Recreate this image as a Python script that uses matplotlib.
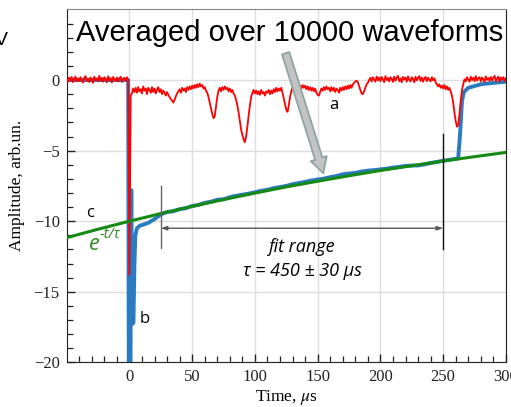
import numpy as np
import matplotlib
matplotlib.use("Agg")
import matplotlib.pyplot as plt

# single waveform (a), sampled every 1 us from -50 to 300 us
red_t0 = -50
red_y = [
    0.10, -0.12, 0.18, -0.05, 0.22, -0.15, 0.08, 0.25, -0.10, 0.12,
    -0.08, 0.20, 0.02, -0.18, 0.15, 0.28, -0.06, 0.10, -0.14, 0.18,
    0.05, -0.20, 0.24, 0.00, 0.12, -0.10, 0.30, -0.04, 0.16, -0.12,
    0.20, 0.06, -0.16, 0.26, -0.02, 0.14, -0.18, 0.22, 0.04, -0.08,
    0.18, -0.10, 0.12, 0.24, -0.14, 0.08, 0.16, -0.06, 0.20, 0.02,
    -13.8, -1.10, -0.95, -0.60, -0.85, -0.55, -0.90, -0.50, -0.80, -0.65,
    -0.95, -0.45, -0.75, -0.60, -1.00, -0.55, -0.70, -0.90, -0.50, -0.85,
    -0.60, -0.95, -0.70, -0.50, -0.85, -0.65, -1.00, -0.75, -0.90, -1.10,
    -0.85, -1.05, -1.20, -1.35, -1.45, -1.60, -1.40, -1.15, -0.95, -0.80,
    -0.65, -0.90, -0.55, -0.75, -0.60, -0.85, -0.50, -0.70, -0.45, -0.65,
    -0.40, -0.60, -0.35, -0.55, -0.30, -0.50, -0.25, -0.45, -0.35, -0.60,
    -0.50, -0.75, -0.90, -1.20, -1.60, -2.00, -2.40, -2.70, -2.55, -1.90,
    -1.20, -0.75, -0.55, -0.80, -0.50, -0.70, -0.45, -0.65, -0.55, -0.80,
    -0.60, -0.85, -0.70, -0.95, -1.10, -1.40, -1.80, -2.30, -2.90, -3.50,
    -3.90, -4.20, -4.40, -4.00, -3.30, -2.50, -1.80, -1.20, -0.90, -0.70,
    -0.95, -0.75, -1.00, -0.80, -1.05, -0.70, -0.95, -0.85, -1.10, -0.80,
    -0.90, -0.70, -1.00, -0.75, -0.95, -0.65, -0.85, -0.55, -0.80, -0.60,
    -0.75, -0.55, -0.90, -1.30, -1.70, -2.10, -2.25, -1.80, -1.20, -0.80,
    -0.55, -0.80, -0.50, -0.70, -0.45, -0.65, -0.40, -0.60, -0.35, -0.55,
    -0.40, -0.65, -0.45, -0.70, -0.50, -0.75, -0.55, -0.80, -0.60, -0.90,
    -1.05, -1.10, -0.85, -0.60, -0.75, -0.50, -0.70, -0.45, -0.65, -0.55,
    -0.80, -0.50, -0.75, -0.55, -0.85, -0.60, -0.70, -0.90, -0.55, -0.75,
    -0.50, -0.70, -0.45, -0.65, -0.40, -0.60, -0.35, -0.55, -0.30, -0.20,
    -0.10, -0.05, -0.15, -0.40, -0.70, -0.95, -1.00, -0.80, -0.55, -0.30,
    -0.20, 0.00, 0.15, -0.10, 0.20, 0.05, -0.12, 0.25, -0.02, 0.18,
    -0.08, 0.22, 0.05, -0.15, 0.28, 0.00, 0.15, -0.10, 0.20, 0.08,
    -0.14, 0.24, -0.04, 0.16, 0.30, -0.08, 0.12, -0.16, 0.22, 0.04,
    0.18, -0.12, 0.26, 0.02, -0.10, 0.20, 0.08, -0.16, 0.24, -0.02,
    0.14, 0.28, -0.06, 0.18, -0.12, 0.10, 0.22, -0.08, 0.16, 0.04,
    -0.10, 0.20, -0.02, 0.12, -0.15, -0.30, -0.45, -0.30, -0.55, -0.40,
    -0.60, -0.35, -0.65, -0.45, -0.70, -0.55, -0.80, -1.10, -1.60, -2.30,
    -2.90, -3.30, -3.20, -2.40, -1.50, -0.70, -0.30, 0.05, -0.10, 0.20,
    0.05, -0.12, 0.24, 0.00, 0.16, -0.08, 0.28, -0.04, 0.12, 0.20,
    -0.10, 0.18, 0.06, -0.14, 0.26, 0.02, 0.14, -0.06, 0.22, -0.02,
    0.16, 0.30, -0.08, 0.10, 0.24, -0.12, 0.18, 0.04, 0.20, -0.06,
    0.12,
]
red_t = red_t0 + np.arange(len(red_y))

# averaged waveform (b)
blue_t = [-50, -1.0, -0.5, 0.8, 1.5, 2.0, 3.2, 4.0, 4.7, 6.0, 8.5,
          10, 15, 20, 25, 30, 35, 40, 45, 50, 55, 60, 65, 70, 75, 80, 85,
          90, 95, 100, 105, 110, 115, 120, 125, 130, 135, 140, 145, 150,
          155, 160, 165, 170, 175, 180, 185, 190, 195, 200, 205, 210, 215,
          220, 225, 230, 235, 240, 245, 250, 255, 260, 262, 263.5, 265,
          266.5, 270, 280, 290, 300]
blue_y = [0.0, 0.0, -21.0, -21.0, -7.8, -17.3, -17.2, -13.0, -11.0, -10.5, -10.3,
          -10.28, -10.12, -9.85, -9.52, -9.35, -9.30, -9.15, -9.08, -8.92, -8.85,
          -8.70, -8.62, -8.48, -8.45, -8.30, -8.20, -8.12, -8.05, -7.95, -7.85,
          -7.78, -7.66, -7.58, -7.50, -7.38, -7.30, -7.22, -7.12, -7.05, -6.98,
          -6.88, -6.80, -6.68, -6.62, -6.58, -6.48, -6.42, -6.38, -6.33, -6.28,
          -6.20, -6.15, -6.08, -6.06, -6.05, -5.98, -5.88, -5.80, -5.72, -5.65,
          -5.58, -5.55, -3.8, -1.5, -0.85, -0.55, -0.30, -0.20, -0.12]

# exponential fit (c)
green_t = [-50, -25, 0, 25, 50, 75, 100, 125, 150, 175, 200, 225, 250, 275, 300]
green_y = [-11.17, -10.57, -10.0, -9.46, -8.95, -8.47, -8.01, -7.57, -7.17,
           -6.78, -6.41, -6.07, -5.74, -5.43, -5.13]

fit_start, fit_end = 25, 250

plt.rcParams["font.family"] = ["Liberation Serif", "DejaVu Serif"]
plt.rcParams["mathtext.fontset"] = "stix"

fig = plt.figure(figsize=(5.11, 4.07), dpi=100)
ax = fig.add_axes([0.1305, 0.1098, 0.8595, 0.8669])

ax.plot(red_t, red_y, color="#ff0000", lw=1.3, zorder=3)
ax.plot(blue_t, blue_y, color="#2b7bc0", lw=2.8, zorder=2, solid_joinstyle="round")
ax.plot(green_t, green_y, color="#148a14", lw=2.2, zorder=4)

ax.set_xlim(-50, 300)
ax.set_ylim(-20, 5)
ax.set_xticks([0, 50, 100, 150, 200, 250, 300])
ax.set_xticks(np.arange(-40, 300, 10), minor=True)
ax.set_yticks([-20, -15, -10, -5, 0])
ax.set_yticks(np.arange(-20, 5, 1), minor=True)
ax.grid(True, which="major", color="#dddddd", lw=1.0, zorder=0)
ax.tick_params(which="both", direction="in", labelsize=12, colors="#222222", pad=5)
ax.tick_params(which="major", length=6, width=1.0)
ax.tick_params(which="minor", length=4, width=0.9)
for s in ["left", "bottom", "right"]:
    ax.spines[s].set_color("#222222")
ax.spines["top"].set_color("#888888")

ax.set_xlabel("Time, $\\mu$s", fontsize=12.5, labelpad=2)
ax.set_ylabel("Amplitude, arb.un.", fontsize=12.5, labelpad=6)

# fit range markers
ax.plot([fit_start, fit_start], [-7.5, -11.9], color="#666666", lw=1.0, zorder=5)
ax.plot([fit_end, fit_end], [-3.8, -12.0], color="#111111", lw=1.0, zorder=5)
ax.annotate("", xy=(fit_end, -10.5), xytext=(fit_start, -10.5),
            arrowprops=dict(arrowstyle="<|-|>,head_length=0.35,head_width=0.12",
                            color="#555555", lw=1.0, shrinkA=0, shrinkB=0), zorder=5)

sans_it = ["Open Sans", "DejaVu Sans"]
ax.text(137, -11.85, "fit range", family=sans_it, style="italic", fontsize=13,
        ha="center", va="center")
ax.text(137.5, -13.5, "τ = 450 ± 30 μs", family=sans_it, style="italic", fontsize=13,
        ha="center", va="center")

ax.text(-31.5, -9.4, "c", family=sans_it, fontsize=12, ha="center", va="center")
ax.text(-28.2, -11.65, "e", color="#2e8b1e", family=sans_it, style="italic",
        fontsize=15.5, ha="center", va="center", zorder=8)
ax.text(-24.0, -10.95, "-t/τ", color="#2e8b1e", family=sans_it, style="italic",
        fontsize=10.5, ha="left", va="center", zorder=8)
ax.text(12, -16.95, "b", family=sans_it, fontsize=12, ha="center", va="center")
ax.text(163, -1.75, "a", family=sans_it, fontsize=12, ha="center", va="center")

# thick grey arrow pointing at the averaged trace
ax.annotate("", xy=(154.5, -6.6), xytext=(124.5, 1.9),
            arrowprops=dict(arrowstyle="simple,head_length=1.1,head_width=1.2,tail_width=0.55",
                            fc="#c3c3c3", ec="#8fa4a4", lw=1.3, shrinkA=0, shrinkB=0),
            zorder=6)

ax.text(128, 3.35, "Averaged over 10000 waveforms", family=["Liberation Sans"],
        fontsize=21, ha="center", va="center", zorder=7)

fig.text(0.003, 0.9, "V", family=["Liberation Sans"], fontsize=14,
         ha="center", va="center")

fig.savefig("out.png", dpi=100)
